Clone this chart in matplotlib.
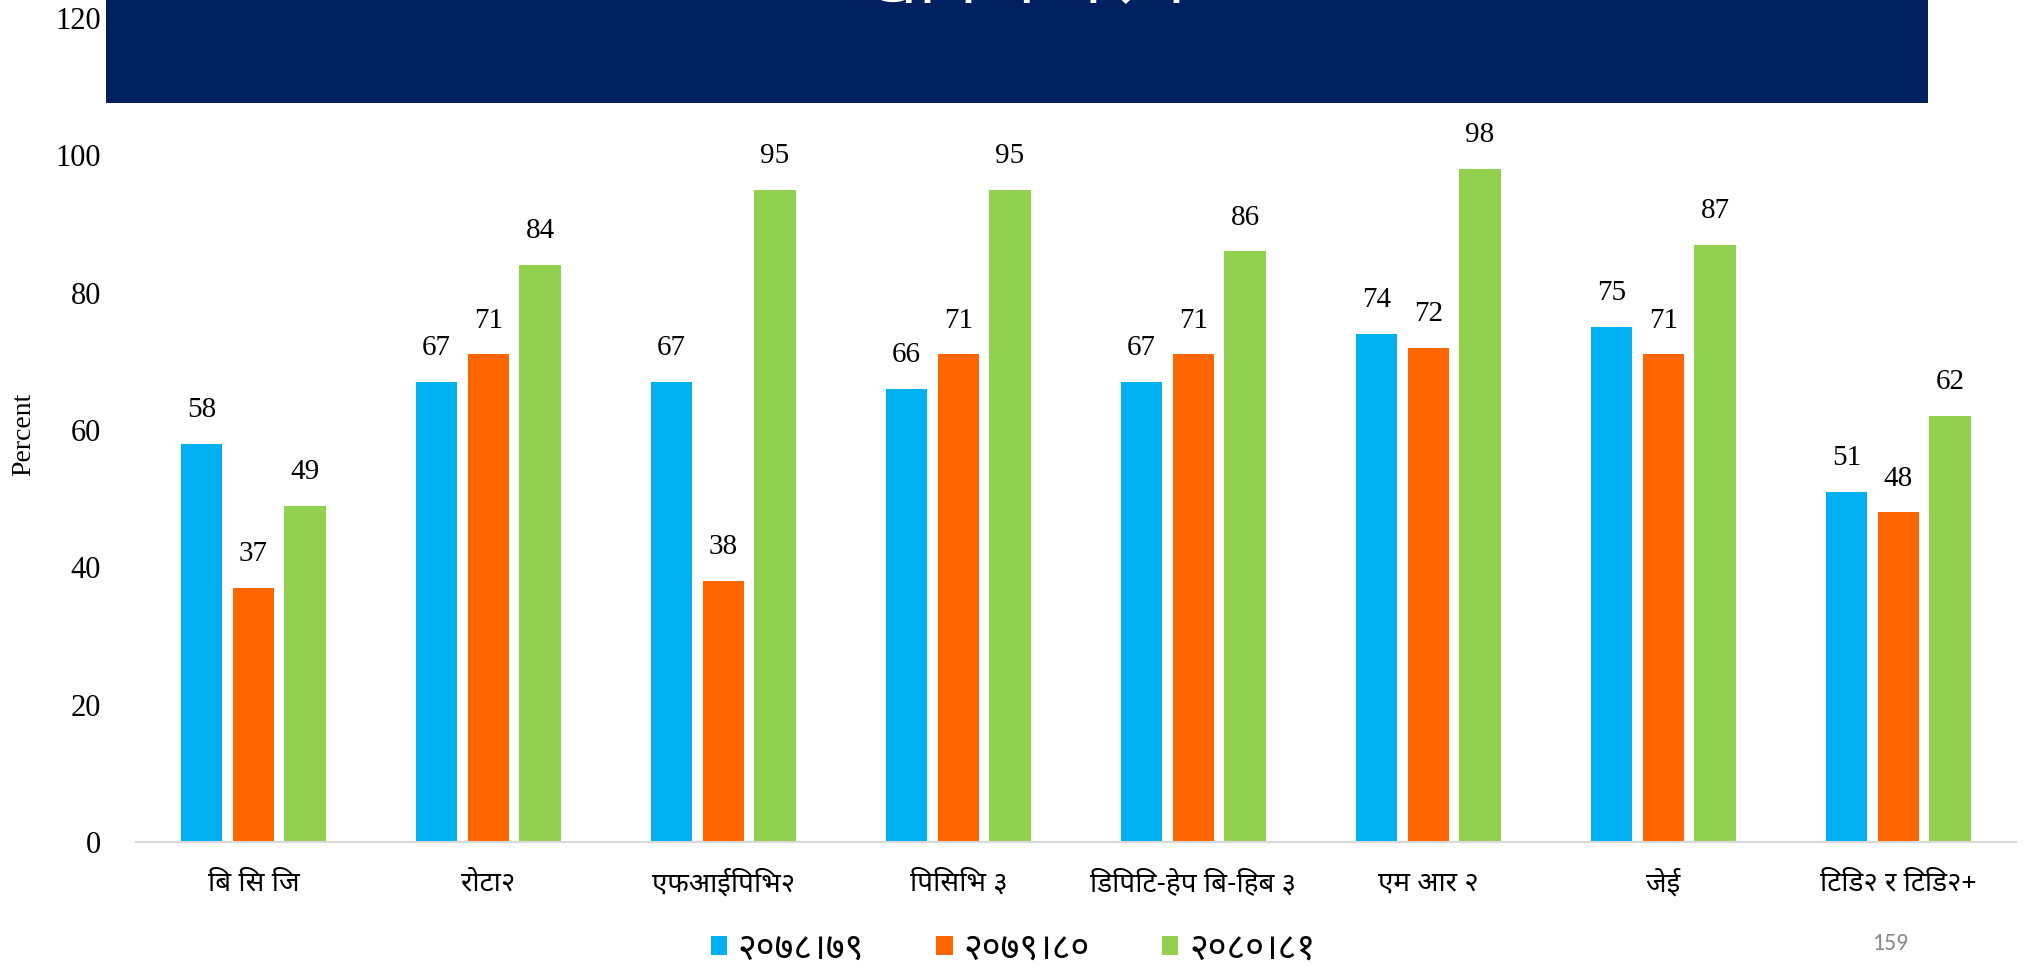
import matplotlib
matplotlib.use("Agg")
import matplotlib.pyplot as plt
import numpy as np
from matplotlib import font_manager as fm
from matplotlib.patches import Rectangle

# ---- data ----
categories = ["बि सि जि", "रोटा२", "एफआईपिभि२", "पिसिभि ३",
              "डिपिटि-हेप बि-हिब ३", "एम आर २", "जेई", "टिडि२ र टिडि२+"]
series_names = ["२०७८।७९", "२०७९।८०", "२०८०।८१"]
values_2078 = [58, 67, 67, 66, 67, 74, 75, 51]
values_2079 = [37, 71, 38, 71, 71, 72, 71, 48]
values_2080 = [49, 84, 95, 95, 86, 98, 87, 62]
y_ticks = [0, 20, 40, 60, 80, 100, 120]
y_label = "Percent"
title_text = "खोप कभरेज"
page_number = "159"

colors = ["#00B0F0", "#FF6600", "#92D050"]


def pick_font(cands):
    names = {f.name for f in fm.fontManager.ttflist}
    for c in cands:
        if c in names:
            return c
    return "DejaVu Sans"


DEV = pick_font(["Noto Sans Devanagari", "Hind", "Mukta", "Poppins", "Annapurna SIL", "Amiko"])
SERIF = pick_font(["Liberation Serif", "DejaVu Serif"])
PAGEF = pick_font(["Carlito", "Liberation Sans"])


def reorder(s):
    # place the short-i matra visually before its consonant (no shaping engine)
    out = []
    for ch in s:
        if ch == "\u093f" and out:
            prev = out.pop()
            out.append(ch)
            out.append(prev)
        else:
            out.append(ch)
    return "".join(out)


fig = plt.figure(figsize=(20.26, 9.75), dpi=100)
ax = fig.add_axes([0.0671, 0.1364, 0.9279, 0.8451])

x = np.arange(len(categories))
w = 0.176
off = 0.22
all_vals = [values_2078, values_2079, values_2080]
for i, (vals, col, name) in enumerate(zip(all_vals, colors, series_names)):
    bars = ax.bar(x + (i - 1) * off, vals, width=w, color=col, label=reorder(name), zorder=2)
    ax.bar_label(bars, labels=[f"{v:.0f}" for v in vals], padding=15,
                 fontsize=21, family=SERIF, color="black")

ax.set_xlim(-0.5, len(categories) - 0.5)
ax.set_ylim(0, 120)
ax.set_yticks(y_ticks)
ax.set_yticklabels([str(t) for t in y_ticks], family=SERIF, fontsize=22)
ax.set_xticks(x)
ax.set_xticklabels([reorder(c) for c in categories], family=[DEV, "DejaVu Sans"], fontsize=20)
ax.tick_params(axis="y", length=0, pad=25)
ax.tick_params(axis="x", length=0, pad=20)
for s in ["top", "right", "left"]:
    ax.spines[s].set_visible(False)
ax.spines["bottom"].set_color("#d9d9d9")
ax.spines["bottom"].set_linewidth(1.5)

fig.text(0.0115, 0.555, y_label, rotation=90, family=SERIF, fontsize=20,
         ha="center", va="center")

leg = fig.legend(loc="center", bbox_to_anchor=(0.5, 0.026), ncol=3, frameon=False,
                 prop={"family": [DEV, "DejaVu Sans"], "size": 26},
                 handlelength=0.45, handleheight=0.45, handletextpad=0.3, columnspacing=2.0)

# header banner
fig.add_artist(Rectangle((0.0523, 0.8944), 0.8993, 0.12, transform=fig.transFigure,
                         facecolor="#002060", edgecolor="none", zorder=10))
fig.text(0.5045, 0.9965, title_text, color="white", fontsize=52, weight="bold",
         family=[DEV, "DejaVu Sans"], ha="center", va="baseline", zorder=11)

fig.text(0.9335, 0.032, page_number, color="#898989", fontsize=17, family=PAGEF,
         ha="center", va="center")

fig.savefig("out.png", dpi=100)
